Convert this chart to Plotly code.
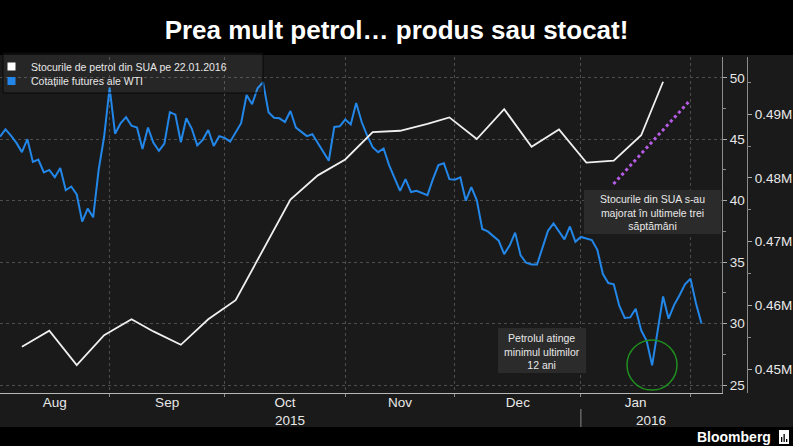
import plotly.graph_objects as go

W, H = 793, 446
MT, MB = 57, 53
PLOT_H = H - MT - MB


def fx(px):
    return px / W


def fy(py):
    return (H - MB - py) / PLOT_H


# ---------------- data ----------------
aug_days = [3, 4, 5, 6, 7, 10, 11, 12, 13, 14, 17, 18, 19, 20, 21, 24, 25, 26, 27, 28, 31]
aug_wti = [45.2, 45.8, 45.3, 44.7, 43.95, 45.0, 43.15, 43.35, 42.3, 42.5, 41.9, 42.65, 40.85,
           41.15, 40.5, 38.3, 39.35, 38.65, 42.5, 45.2, 49.2]
sep_days = [1, 2, 3, 4, 8, 9, 10, 11, 14, 15, 16, 17, 18, 21, 22, 23, 24, 25, 28, 29, 30]
sep_wti = [45.45, 46.3, 46.8, 46.1, 45.95, 44.2, 45.95, 44.7, 44.05, 44.65, 47.2, 47.0, 44.75,
           46.7, 45.85, 44.5, 44.95, 45.75, 44.45, 45.25, 45.1]
oct_days = [1, 2, 5, 6, 7, 8, 9, 12, 13, 14, 15, 16, 19, 20, 21, 22, 23, 26, 27, 28, 29, 30]
oct_wti = [44.8, 45.6, 46.3, 48.6, 47.85, 49.15, 49.65, 47.2, 46.75, 46.7, 46.4, 47.3, 45.95,
           45.6, 45.25, 45.4, 44.7, 44.05, 43.25, 46.0, 46.05, 46.6]
nov_days = [2, 3, 4, 5, 6, 9, 10, 11, 12, 13, 16, 17, 18, 19, 20, 23, 24, 25, 27, 30]
nov_wti = [46.2, 47.95, 46.4, 45.3, 44.35, 43.95, 44.25, 42.9, 41.8, 40.8, 41.75, 40.7, 40.8,
           40.6, 40.45, 41.75, 42.9, 43.05, 41.75, 41.7]
dec_days = [1, 2, 3, 4, 7, 8, 9, 10, 11, 14, 15, 16, 17, 18, 21, 22, 23, 24, 28, 29, 30, 31]
dec_wti = [41.9, 40.0, 41.1, 40.05, 37.7, 37.5, 37.1, 36.75, 35.65, 36.35, 37.4, 35.55, 34.95,
           34.8, 34.8, 36.2, 37.55, 38.15, 36.85, 37.9, 36.65, 37.05]
jan_days = [4, 5, 6, 7, 8, 11, 12, 13, 14, 15, 19, 20, 21, 22, 25, 26, 27, 28, 29]
jan_wti = [36.8, 36.0, 34.05, 33.3, 33.2, 31.45, 30.45, 30.5, 31.2, 29.45, 28.6, 26.6, 29.55,
           32.2, 30.4, 31.5, 32.3, 33.2, 33.65]
feb_days = [1, 2]
feb_wti = [31.65, 30.0]

wti_dates = ([f"2015-08-{d:02d}" for d in aug_days] + [f"2015-09-{d:02d}" for d in sep_days]
             + [f"2015-10-{d:02d}" for d in oct_days] + [f"2015-11-{d:02d}" for d in nov_days]
             + [f"2015-12-{d:02d}" for d in dec_days] + [f"2016-01-{d:02d}" for d in jan_days]
             + [f"2016-02-{d:02d}" for d in feb_days])
wti_values = aug_wti + sep_wti + oct_wti + nov_wti + dec_wti + jan_wti + feb_wti

stock_dates = ["2015-08-07", "2015-08-14", "2015-08-21", "2015-08-28", "2015-09-04",
               "2015-09-11", "2015-09-18", "2015-09-25", "2015-10-02", "2015-10-09",
               "2015-10-16", "2015-10-23", "2015-10-30", "2015-11-06", "2015-11-13",
               "2015-11-20", "2015-11-27", "2015-12-04", "2015-12-11", "2015-12-18",
               "2015-12-25", "2016-01-01", "2016-01-08", "2016-01-15", "2016-01-22"]
stock_values = [453500, 456000, 450600, 455300, 457800, 455900, 453800, 457800, 460800,
                468800, 476600, 480400, 482900, 487200, 487400, 488500, 489500, 486100,
                490800, 484900, 487600, 482400, 482700, 486700, 495100]

holidays = ["2015-09-07", "2015-11-26", "2016-01-18"]
month_label_dates = ["2015-08-17", "2015-09-15 12:00", "2015-10-15", "2015-11-13",
                     "2015-12-15 12:00", "2016-01-14"]
month_labels = ["Aug", "Sep", "Oct", "Nov", "Dec", "Jan"]
month_end_dates = ["2015-08-31", "2015-09-30", "2015-10-30", "2015-11-30", "2015-12-31",
                   "2016-01-29"]
year_labels = ["2015", "2016"]

wti_ticks = [25, 30, 35, 40, 45, 50]
wti_minor = [27.5, 32.5, 37.5, 42.5, 47.5]
stock_ticks = [450000, 460000, 470000, 480000, 490000]
stock_tick_labels = ["0.45M", "0.46M", "0.47M", "0.48M", "0.49M"]
stock_minor = [445000, 455000, 465000, 475000, 485000, 495000]

legend_labels = ["Stocurile de petrol din SUA pe 22.01.2016", "Cotațiile futures ale WTI"]
note_stocks = "Stocurile din SUA s-au<br>majorat în ultimele trei<br>săptămâni"
note_oil = "Petrolul atinge<br>minimul ultimilor<br>12 ani"
title_text = "Prea mult petrol… produs sau stocat!"

# ---------------- style ----------------
FONT = "Liberation Sans, Arial, sans-serif"
BG = "#1a1a1a"
BLUE = "#2287e8"
WHITE = "#f0f0f0"
GRID = "#4d4d4d"
TXT = "#e8e8e8"

fig = go.Figure()
fig.add_trace(go.Scatter(x=wti_dates, y=wti_values, mode="lines", yaxis="y",
                         line=dict(color=BLUE, width=2), showlegend=False, hoverinfo="skip"))
fig.add_trace(go.Scatter(x=stock_dates, y=stock_values, mode="lines", yaxis="y2",
                         line=dict(color=WHITE, width=1.8), showlegend=False, hoverinfo="skip"))

tickfont = dict(family=FONT, size=13.5, color=TXT)

fig.update_layout(
    width=W, height=H,
    margin=dict(l=0, r=0, t=MT, b=MB, pad=0),
    paper_bgcolor="#000000",
    plot_bgcolor=BG,
    showlegend=False,
    title=dict(text="<b>" + title_text + "</b>", x=0.5, xanchor="center",
               y=1 - 30 / H, yanchor="middle",
               font=dict(family=FONT, size=26, color="#ffffff")),
    xaxis=dict(
        type="date", domain=[0, fx(722)],
        range=["2015-08-03", "2016-02-05 18:00"],
        rangebreaks=[dict(bounds=["sat", "mon"]), dict(values=holidays)],
        tickmode="array", tickvals=month_label_dates, ticktext=month_labels,
        ticks="", showgrid=False, zeroline=False, ticklabelstandoff=-3,
        showline=True, linecolor="#b8b8b8", linewidth=1,
        tickfont=tickfont,
        minor=dict(tickmode="array", tickvals=month_end_dates, showgrid=True,
                   gridcolor=GRID, griddash="dot", gridwidth=1,
                   ticks="outside", ticklen=3, tickcolor="#8a8a8a"),
    ),
    yaxis=dict(
        side="right", anchor="x", range=[24.35, 51.69],
        tickmode="array", tickvals=wti_ticks,
        ticks="outside", ticklen=4, tickcolor="#aaaaaa",
        showline=True, linecolor="#8c8c8c", linewidth=1,
        showgrid=True, gridcolor=GRID, griddash="dot", gridwidth=1,
        zeroline=False, tickfont=tickfont,
        minor=dict(tickmode="array", tickvals=wti_minor, ticks="outside", ticklen=3,
                   tickcolor="#8c8c8c", showgrid=False),
    ),
    yaxis2=dict(
        overlaying="y", side="right", anchor="free", position=fx(747),
        range=[446232, 498980],
        tickmode="array", tickvals=stock_ticks, ticktext=stock_tick_labels,
        ticks="outside", ticklen=4, tickcolor="#aaaaaa",
        showline=True, linecolor="#8c8c8c", linewidth=1,
        showgrid=False, zeroline=False, tickfont=tickfont,
        minor=dict(tickmode="array", tickvals=stock_minor, ticks="outside", ticklen=3,
                   tickcolor="#8c8c8c", showgrid=False),
    ),
)

shapes = []
# dark grey chart band between black title strip and black footer
shapes.append(dict(type="rect", xref="paper", yref="paper", x0=0, x1=1,
                   y0=fy(427), y1=fy(55), fillcolor=BG, line=dict(width=0), layer="below"))
# year separator
shapes.append(dict(type="line", xref="x", yref="paper", x0="2015-12-31", x1="2015-12-31",
                   y0=fy(409), y1=fy(427), line=dict(color="#8a8a8a", width=1)))
# legend box
shapes.append(dict(type="rect", xref="paper", yref="paper", x0=fx(3), x1=fx(263),
                   y0=fy(93), y1=fy(53), fillcolor="rgba(255,255,255,0.055)",
                   line=dict(color="#080808", width=1), layer="above"))
shapes.append(dict(type="rect", xref="paper", yref="paper", x0=fx(7.5), x1=fx(15.5),
                   y0=fy(70.5), y1=fy(62.5), fillcolor="#ffffff", line=dict(width=0)))
shapes.append(dict(type="rect", xref="paper", yref="paper", x0=fx(7.5), x1=fx(15.5),
                   y0=fy(85), y1=fy(77), fillcolor=BLUE, line=dict(width=0)))
# note boxes
shapes.append(dict(type="rect", xref="paper", yref="paper", x0=fx(584), x1=fx(721),
                   y0=fy(234), y1=fy(190), fillcolor="#2b2b2b", line=dict(width=0),
                   layer="above"))
shapes.append(dict(type="rect", xref="paper", yref="paper", x0=fx(498), x1=fx(586),
                   y0=fy(373), y1=fy(328), fillcolor="#2b2b2b", line=dict(width=0),
                   layer="above"))
# green circle around the low
shapes.append(dict(type="circle", xref="paper", yref="paper", x0=fx(627), x1=fx(677),
                   y0=fy(390), y1=fy(340), line=dict(color="#1f8f1f", width=1.5)))
# purple dotted trend marker
shapes.append(dict(type="line", xref="paper", yref="paper", x0=fx(613.5), y0=fy(184),
                   x1=fx(689.5), y1=fy(101), line=dict(color="#b75ce6", width=3, dash="dot")))
# Bloomberg icon
shapes.append(dict(type="rect", xref="paper", yref="paper", x0=fx(779), x1=fx(789),
                   y0=fy(444), y1=fy(430), fillcolor="#ffffff", line=dict(width=0)))
for bx, top in [(781, 437), (783.5, 434), (786, 439)]:
    shapes.append(dict(type="rect", xref="paper", yref="paper", x0=fx(bx), x1=fx(bx + 1.3),
                       y0=fy(442), y1=fy(top), fillcolor="#000000", line=dict(width=0)))
fig.update_layout(shapes=shapes)

ann = []
ann.append(dict(text=year_labels[0], xref="paper", yref="paper", x=fx(290), y=fy(420),
                xanchor="center", yanchor="middle", showarrow=False, font=tickfont))
ann.append(dict(text=year_labels[1], xref="paper", yref="paper", x=fx(651), y=fy(420),
                xanchor="center", yanchor="middle", showarrow=False, font=tickfont))
for i, (lab, yy) in enumerate(zip(legend_labels, [66.5, 81])):
    ann.append(dict(text=lab, xref="paper", yref="paper", x=fx(29), y=fy(yy),
                    xanchor="left", yanchor="middle", showarrow=False,
                    font=dict(family=FONT, size=10.5, color=TXT)))
ann.append(dict(text=note_stocks, xref="paper", yref="paper", x=fx(652), y=fy(212),
                xanchor="center", yanchor="middle", showarrow=False, align="center",
                font=dict(family=FONT, size=10.5, color=TXT)))
ann.append(dict(text=note_oil, xref="paper", yref="paper", x=fx(542), y=fy(351),
                xanchor="center", yanchor="middle", showarrow=False, align="center",
                font=dict(family=FONT, size=10.5, color=TXT)))
ann.append(dict(text="<b>Bloomberg</b>", xref="paper", yref="paper", x=fx(773), y=fy(437),
                xanchor="right", yanchor="middle", showarrow=False,
                font=dict(family=FONT, size=14, color="#ffffff")))
fig.update_layout(annotations=ann)

fig.write_html("out.html",
               config={"displayModeBar": False},
               post_script="document.body.style.margin='0px';"
                           "document.body.style.overflow='hidden';")
